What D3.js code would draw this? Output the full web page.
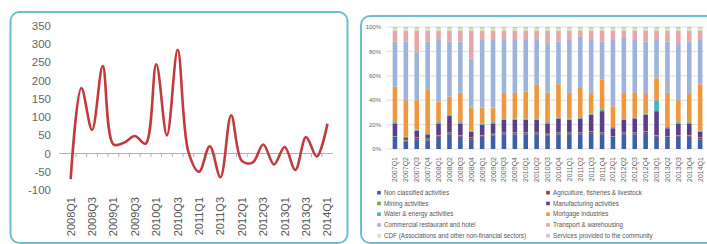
<!DOCTYPE html>
<html><head><meta charset="utf-8">
<script src="https://cdn.jsdelivr.net/npm/d3@7"></script>
<style>
html,body{margin:0;padding:0;background:#fff;}
svg{display:block;font-family:"Liberation Sans",Arial,sans-serif;}
</style></head>
<body>
<svg id="c" width="707" height="244"></svg>
<script>
// ---- Left chart data ----
const quarters = ["2008Q1","2008Q2","2008Q3","2008Q4","2009Q1","2009Q2","2009Q3","2009Q4","2010Q1","2010Q2","2010Q3","2010Q4","2011Q1","2011Q2","2011Q3","2011Q4","2012Q1","2012Q2","2012Q3","2012Q4","2013Q1","2013Q2","2013Q3","2013Q4","2014Q1"];
const lineValues = [-70,180,65,240,25,30,48,27,245,50,285,5,-50,20,-65,105,-20,-25,25,-30,18,-45,45,-8,82];
const lineTicks = [-100,-50,0,50,100,150,200,250,300,350];

// ---- Right chart data (shares, %) ----
const barQuarters = ["2007Q1","2007Q2","2007Q3","2007Q4","2008Q1","2008Q2","2008Q3","2008Q4","2009Q1","2009Q2","2009Q3","2009Q4","2010Q1","2010Q2","2010Q3","2010Q4","2011Q1","2011Q2","2011Q3","2011Q4","2012Q1","2012Q2","2012Q3","2012Q4","2013Q1","2013Q2","2013Q3","2013Q4","2014Q1"];
const nonClassified = [9,6,8,7,10,12,10,8,10,11,12,12,12,12,11,12,12,12,13,12,9,12,12,13,10,9,10,10,8];
const agriculture   = [1,1,1,1,1,1,1,1,1,1,1,1,1,1,1,1,1,1,1,1,1,1,1,1,1,1,1,1,1];
const mining        = [0.5,0.5,0.5,0.5,0.5,0.5,0.5,0.5,0.5,0.5,0.5,0.5,0.5,0.5,0.5,0.5,0.5,0.5,0.5,0.5,0.5,0.5,0.5,0.5,0.5,0.5,0.5,0.5,0.5];
const manufacturing = [10.5,1.5,5.5,3.5,9.5,13.5,9.5,4.5,8.5,8.5,10.5,10.5,10.5,10.5,8.5,11.5,10.5,11.5,13.5,17.5,6.5,10.5,11.5,13.5,19.5,6.5,9.5,9.5,4.5];
const waterEnergy   = [1,1,1,1,1,1,1,1,1,1,1,1,1,1,1,1,1,1,1,1,1,1,1,1,9,1,1,1,1];
const mortgage      = [29,30,24,36,17,15,24,19,13,12,21,21,22,28,24,27,21,24,16,25,17,21,20,16,18,28,18,23,38];
const commercial    = [37,48,40,39,51,45,42,40,56,56,44,44,43,37,40,35,44,42,45,31,55,46,44,43,32,42,46,43,37];
const transport     = [9,9,17,9,7,9,9,23,7,7,7,7,7,7,11,9,7,5,7,9,7,5,7,9,7,9,11,9,7];
const cdf           = [2,2,2,2,2,2,2,2,2,2,2,2,2,2,2,2,2,2,2,2,2,2,2,2,2,2,2,2,2];
const services      = [1,1,1,1,1,1,1,1,1,1,1,1,1,1,1,1,1,1,1,1,1,1,1,1,1,1,1,1,1];
const barTicks = [0,20,40,60,80,100];
const seriesNames = ["Non classified activities","Agriculture, fisheries & livestock","Mining activities","Manufacturing activities","Water & energy activities","Mortgage industries","Commercial restaurant and hotel","Transport & warehousing","CDF (Associations and other non-financial sectors)","Services provided to the community"];
const seriesColors = ["#3c5fa6","#8a3a52","#6aa84f","#5b3d8a","#3fb3c4","#f0963c","#9db3dc","#e7a6a8","#d6e4a4","#c9c0dd"];
const seriesValues = [nonClassified,agriculture,mining,manufacturing,waterEnergy,mortgage,commercial,transport,cdf,services];

const svg = d3.select("#c");

// ---------- Panels ----------
svg.append("rect").attr("x",10.5).attr("y",12).attr("width",337).attr("height",231)
  .attr("rx",9).attr("fill","#fff").attr("stroke","#6cbfd0").attr("stroke-width",2);
svg.append("rect").attr("x",361).attr("y",16).attr("width",360).attr("height",227)
  .attr("rx",9).attr("fill","#fff").attr("stroke","#6cbfd0").attr("stroke-width",2);

// ---------- Left line chart ----------
const yL = d3.scaleLinear().domain([-100,350]).range([190,26]);
const xL = d3.scaleBand().domain(quarters).range([65.3,332.8]);
const gL = svg.append("g");

gL.selectAll("text.yl").data(lineTicks).join("text")
  .attr("x",51).attr("y",d=>yL(d)).attr("dy","0.35em")
  .attr("text-anchor","end").attr("font-size",11.5).attr("fill","#666").text(d=>d);

gL.append("line").attr("x1",59).attr("x2",333).attr("y1",yL(0)).attr("y2",yL(0))
  .attr("stroke","#b0b0b0").attr("stroke-width",1);
gL.selectAll("line.tk").data(quarters.slice(1)).join("line")
  .attr("x1",d=>xL(d)).attr("x2",d=>xL(d)).attr("y1",yL(0)).attr("y2",yL(0)+3.5)
  .attr("stroke","#b0b0b0").attr("stroke-width",1);

gL.selectAll("text.xl").data(quarters.filter((d,i)=>i%2===0)).join("text")
  .attr("transform",d=>`translate(${xL(d)+xL.bandwidth()/2},197) rotate(-90)`)
  .attr("dy","0.35em").attr("text-anchor","end").attr("font-size",11).attr("fill","#555").text(d=>d);

const line = d3.line()
  .x((d,i)=>xL(quarters[i])+xL.bandwidth()/2)
  .y(d=>yL(d))
  .curve(d3.curveCatmullRom.alpha(0.5));
gL.append("path").datum(lineValues).attr("d",line)
  .attr("fill","none").attr("stroke","#c23a3f").attr("stroke-width",2.6).attr("stroke-linejoin","round");

// ---------- Right stacked bar chart ----------
const yR = d3.scaleLinear().domain([0,100]).range([149,27]);
const xR = d3.scaleBand().domain(barQuarters).range([389.5,705.6]).paddingInner(0.58).paddingOuter(0.29);
const gR = svg.append("g");

gR.selectAll("line.gr").data(barTicks).join("line")
  .attr("x1",386).attr("x2",704).attr("y1",d=>yR(d)).attr("y2",d=>yR(d))
  .attr("stroke","#d8d8d8").attr("stroke-width",0.8);
gR.selectAll("text.yr").data(barTicks).join("text")
  .attr("x",381).attr("y",d=>yR(d)).attr("dy","0.35em").attr("text-anchor","end")
  .attr("font-size",6).attr("fill","#666").text(d=>d+"%");

const table = barQuarters.map((q,i)=>{const o={q}; seriesNames.forEach((n,k)=>o[n]=seriesValues[k][i]); return o;});
const stacked = d3.stack().keys(seriesNames)(table);
gR.selectAll("g.s").data(stacked).join("g").attr("fill",(d,k)=>seriesColors[k])
  .selectAll("rect").data(d=>d).join("rect")
  .attr("x",d=>xR(d.data.q)).attr("width",xR.bandwidth())
  .attr("y",d=>yR(d[1])).attr("height",d=>Math.max(0,yR(d[0])-yR(d[1])));

gR.selectAll("text.xr").data(barQuarters).join("text")
  .attr("transform",d=>`translate(${xR(d)+xR.bandwidth()/2},157) rotate(-90)`)
  .attr("dy","0.35em").attr("text-anchor","end").attr("font-size",7).attr("fill","#666").text(d=>d);

// legend
const leg = gR.selectAll("g.lg").data(seriesNames).join("g")
  .attr("transform",(d,k)=>`translate(${k%2===0?379:548},${192.7+Math.floor(k/2)*10.75})`);
leg.append("rect").attr("x",-1.8).attr("y",-1.8).attr("width",3.6).attr("height",3.6)
  .attr("fill",(d,k)=>seriesColors[k]);
leg.append("text").attr("x",5).attr("y",0).attr("dy","0.35em").attr("font-size",6.3)
  .attr("fill","#555").text(d=>d);
</script>
</body></html>
